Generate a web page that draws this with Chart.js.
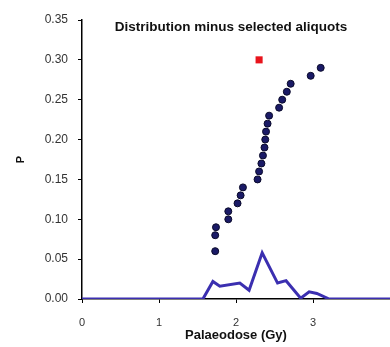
<!DOCTYPE html>
<html>
<head>
<meta charset="utf-8">
<script src="https://cdn.jsdelivr.net/npm/chart.js@4.4.1/dist/chart.umd.min.js"></script>
<style>
  html, body { margin: 0; padding: 0; background: #fff; }
  #wrap { width: 390px; height: 347px; }
</style>
</head>
<body>
<div id="wrap"><canvas id="scatterChart" width="390" height="347"></canvas></div>
<script>
// palaeodose (Gy) and P for each aliquot
const doses = [1.73, 1.73, 1.74, 1.90, 1.90, 2.02, 2.06, 2.09, 2.28, 2.30, 2.33, 2.35,
  2.37, 2.38, 2.39, 2.41, 2.43, 2.56, 2.60, 2.66, 2.71, 2.97, 3.10];
const probs = [0.06, 0.08, 0.09, 0.10, 0.11, 0.12, 0.13, 0.14, 0.15, 0.16, 0.17, 0.18,
  0.19, 0.20, 0.21, 0.22, 0.23, 0.24, 0.25, 0.26, 0.27, 0.28, 0.29];

// the removed aliquot (red square)
const selectedDose = [2.30];
const selectedP = [0.30];

// probability distribution curve
const curveDose = [0, 1.57, 1.70, 1.79, 2.05, 2.17, 2.34, 2.54, 2.65, 2.84, 2.95, 3.05, 3.21, 4];
const curveP = [0, 0, 0.022, 0.016, 0.020, 0.011, 0.058, 0.020, 0.023, 0.001, 0.009, 0.007, 0, 0];

const yTicks = [0, 0.05, 0.10, 0.15, 0.20, 0.25, 0.30, 0.35];
const xTicks = [0, 1, 2, 3, 4];

const zip = (xs, ys) => xs.map((x, i) => ({ x: x, y: ys[i] }));

const titlePlugin = {
  id: 'innerTitle',
  afterDraw(chart) {
    const ctx = chart.ctx;
    ctx.save();
    ctx.font = 'bold 13.5px "Liberation Sans", Arial, sans-serif';
    ctx.fillStyle = '#111';
    ctx.textAlign = 'center';
    ctx.textBaseline = 'middle';
    ctx.fillText('Distribution minus selected aliquots', 231, 27);
    ctx.restore();
  }
};

const ctx = document.getElementById('scatterChart').getContext('2d');
const chart = new Chart(ctx, {
  type: 'scatter',
  data: {
    datasets: [
      {
        label: 'curve',
        data: zip(curveDose, curveP),
        showLine: true,
        borderColor: '#3b2fb0',
        borderWidth: 3,
        pointRadius: 0,
        tension: 0,
        order: 0
      },
      {
        label: 'selected',
        data: zip(selectedDose, selectedP),
        pointStyle: 'rect',
        pointRadius: 5,
        backgroundColor: '#e8141c',
        borderColor: '#e8141c',
        borderWidth: 0,
        order: 1
      },
      {
        label: 'aliquots',
        data: zip(doses, probs),
        pointRadius: 3.5,
        backgroundColor: '#1a1a66',
        borderColor: '#0a0a2a',
        borderWidth: 1,
        order: 2
      }
    ]
  },
  options: {
    responsive: false,
    animation: false,
    layout: { autoPadding: false, padding: { top: 20, right: 0, left: 0, bottom: 0 } },
    plugins: {
      legend: { display: false },
      tooltip: { enabled: false }
    },
    scales: {
      x: {
        type: 'linear',
        min: 0,
        max: 4,
        afterBuildTicks: (scale) => { scale.ticks = xTicks.map(v => ({ value: v })); },
        afterFit: (scale) => { scale.height = 48; scale.paddingRight = 0; },
        ticks: {
          padding: 13,
          color: '#333',
          font: { family: '"Liberation Sans", Arial, sans-serif', size: 11 },
          callback: (v) => (v === 4 ? '' : String(v))
        },
        grid: { drawOnChartArea: false, tickLength: 4, color: '#000' },
        border: { color: '#000', width: 1.5 },
        title: {
          display: true,
          text: 'Palaeodose (Gy)',
          color: '#111',
          font: { family: '"Liberation Sans", Arial, sans-serif', size: 13, weight: 'bold' },
          padding: { top: 0, bottom: 4 }
        }
      },
      y: {
        min: 0,
        max: 0.35,
        afterBuildTicks: (scale) => { scale.ticks = yTicks.map(v => ({ value: v })); },
        afterFit: (scale) => { scale.width = 82; },
        ticks: {
          padding: 10,
          color: '#333',
          font: { family: '"Liberation Sans", Arial, sans-serif', size: 12 },
          callback: (v) => v.toFixed(2)
        },
        grid: { drawOnChartArea: false, tickLength: 4, color: '#000' },
        border: { color: '#000', width: 1.5 },
        title: {
          display: true,
          text: 'P',
          color: '#111',
          font: { family: '"Liberation Sans", Arial, sans-serif', size: 11, weight: 'bold' },
          padding: { top: 14, bottom: 0 }
        }
      }
    }
  },
  plugins: [titlePlugin]
});
</script>
</body>
</html>
